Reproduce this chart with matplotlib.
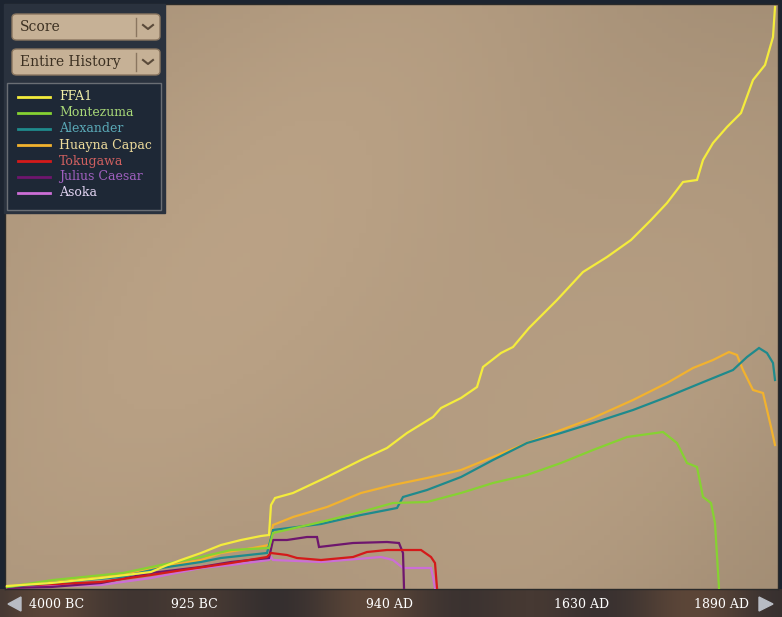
import numpy as np
import matplotlib.pyplot as plt
from matplotlib.patches import FancyBboxPatch, Rectangle, Polygon

# ============================
# Datos (turno, puntuación)
# ============================
ffa1_t = [0, 22, 47, 72, 79, 87, 97, 107, 117, 127, 131, 132, 134, 143, 160, 177, 190, 200,
          213, 217, 227, 235, 238, 247, 253, 261, 275, 288, 300, 312, 322, 330, 338, 345,
          348, 353, 360, 367, 373, 379, 383, 384]
ffa1_s = [4, 10, 20, 32, 44, 56, 70, 86, 96, 104, 106, 166, 180, 190, 222, 256, 280, 310,
          342, 360, 380, 402, 442, 470, 482, 520, 576, 632, 662, 696, 736, 770, 812, 816,
          856, 890, 922, 950, 1016, 1046, 1102, 1162]

monte_t = [0, 23, 58, 77, 97, 112, 131, 133, 157, 177, 193, 210, 227, 243, 260, 277, 293,
           310, 328, 335, 340, 345, 348, 352, 354, 356]
monte_s = [2, 16, 30, 46, 62, 76, 80, 110, 132, 152, 170, 172, 190, 210, 226, 250, 276,
           302, 312, 290, 250, 242, 182, 170, 130, 0]

alex_t = [0, 27, 57, 77, 97, 107, 130, 133, 157, 177, 195, 198, 210, 227, 243, 260, 277,
          293, 313, 330, 347, 363, 370, 376, 380, 383, 384]
alex_s = [2, 12, 22, 40, 52, 60, 70, 116, 128, 146, 160, 182, 196, 222, 256, 290, 310,
          330, 356, 382, 410, 436, 462, 480, 470, 450, 416]

huayna_t = [0, 27, 57, 77, 97, 107, 123, 131, 133, 143, 160, 177, 193, 210, 227, 243, 260,
            277, 293, 313, 330, 343, 353, 361, 365, 368, 373, 378, 382, 384]
huayna_s = [2, 16, 28, 42, 56, 70, 80, 86, 126, 142, 162, 190, 206, 220, 236, 262, 290,
            316, 340, 376, 410, 440, 456, 472, 466, 436, 396, 390, 322, 286]

toku_t = [0, 13, 47, 72, 88, 112, 130, 132, 140, 145, 157, 173, 180, 190, 207, 212, 214, 215]
toku_s = [2, 6, 12, 26, 36, 50, 62, 70, 66, 60, 56, 62, 72, 76, 76, 62, 50, 0]

julius_t = [0, 22, 47, 72, 97, 112, 131, 133, 140, 150, 155, 156, 173, 190, 196, 198, 198.5]
julius_s = [0, 2, 10, 30, 42, 52, 60, 96, 96, 102, 102, 82, 90, 92, 90, 70, 0]

asoka_t = [1, 47, 72, 97, 112, 131, 132, 133, 157, 187, 193, 198, 212, 213, 214]
asoka_s = [2, 6, 20, 40, 46, 56, 62, 56, 52, 62, 56, 40, 40, 22, 0]

nombres = ["FFA1", "Montezuma", "Alexander", "Huayna Capac", "Tokugawa", "Julius Caesar", "Asoka"]
series = [(ffa1_t, ffa1_s), (monte_t, monte_s), (alex_t, alex_s), (huayna_t, huayna_s),
          (toku_t, toku_s), (julius_t, julius_s), (asoka_t, asoka_s)]
colores_linea = ["#f4ec3c", "#86d232", "#1f8a8c", "#f2b22e", "#d41a1a", "#6e166e", "#cc6ed6"]
colores_texto = ["#f2f0a8", "#a8d878", "#5aaab8", "#eedc9c", "#d06060", "#a060c0", "#e2d4f2"]

etiquetas_x = ["4000 BC", "925 BC", "940 AD", "1630 AD", "1890 AD"]
pos_etiquetas_px = [57, 194, 389, 582, 721]

W, H = 782, 617


def fx(x):
    return x / W


def fy(y):
    return 1 - y / H


# ============================
# Figura y fondo
# ============================
fig = plt.figure(figsize=(W / 100, H / 100), dpi=100)
fig.patch.set_facecolor("#1c2430")

# barra inferior (oscura, con tonos marrones)
bar = fig.add_axes([0, 0, 1, fy(589)])
u = np.linspace(0, 1, 300)
tono = 0.5 + 0.5 * np.sin(u * 23) * np.cos(u * 7)
base_bar = np.array([48, 44, 46]) / 255
marron = np.array([92, 70, 56]) / 255
img_bar = base_bar[None, :] * (1 - tono[:, None]) + marron[None, :] * tono[:, None]
bar.imshow(img_bar[None, :, :], aspect="auto", extent=[0, 1, 0, 1])
bar.set_xlim(0, 1)
bar.set_ylim(0, 1)
bar.axis("off")

# ============================
# Gráfico
# ============================
ax = fig.add_axes([fx(5), fy(589), fx(778) - fx(5), fy(4) - fy(589)])
yy, xx = np.mgrid[0:1:120j, 0:1:120j]
brillo = 1 - 0.16 * ((xx - 0.4) ** 2 + (yy - 0.5) ** 2) - 0.015 * np.sin(xx * 9 + yy * 5)
perg = np.array([184, 160, 132]) / 255
img = np.clip(perg[None, None, :] * brillo[:, :, None], 0, 1)
ax.imshow(img, extent=[-1, 385.5, -2, 1168], aspect="auto", zorder=0)

for i in range(len(series) - 1, -1, -1):
    t, s = series[i]
    ax.plot(t, s, color=colores_linea[i], lw=1.6, zorder=2 + (len(series) - i),
            solid_joinstyle="miter")

ax.set_xlim(-1, 385.5)
ax.set_ylim(-2, 1168)
ax.set_xticks([])
ax.set_yticks([])
for sp in ax.spines.values():
    sp.set_color("#2a2a2a")
    sp.set_linewidth(1.0)

# etiquetas del eje
for txt, xp in zip(etiquetas_x, pos_etiquetas_px):
    fig.text(fx(xp), fy(604), txt, color="white", fontsize=9, family="DejaVu Serif",
             ha="center", va="center")

# flechas
fig.patches.append(Polygon([(fx(8), fy(604)), (fx(21), fy(597)), (fx(21), fy(611))],
                           closed=True, transform=fig.transFigure, color="#b8bcc4"))
fig.patches.append(Polygon([(fx(773), fy(604)), (fx(759), fy(597)), (fx(759), fy(611))],
                           closed=True, transform=fig.transFigure, color="#b8bcc4"))

# ============================
# Panel superior izquierdo
# ============================
fig.patches.append(Rectangle((fx(4), fy(213)), fx(165) - fx(4), fy(4) - fy(213),
                             transform=fig.transFigure, color="#2a323e", zorder=5))

for y0, txt in [(14, "Score"), (49, "Entire History")]:
    caja = FancyBboxPatch((fx(12), fy(y0 + 26)), fx(160) - fx(12), fy(y0) - fy(y0 + 26),
                          boxstyle="round,pad=0,rounding_size=0.006",
                          transform=fig.transFigure, facecolor="#c6b196",
                          edgecolor="#8a7660", lw=1, zorder=6)
    fig.patches.append(caja)
    fig.lines.append(plt.Line2D([fx(136), fx(136)], [fy(y0 + 4), fy(y0 + 22)],
                                transform=fig.transFigure, color="#8a7660", lw=1, zorder=7))
    fig.lines.append(plt.Line2D([fx(143), fx(148), fx(153)], [fy(y0 + 11), fy(y0 + 15), fy(y0 + 11)],
                                transform=fig.transFigure, color="#5a4a3a", lw=1.5, zorder=7))
    fig.text(fx(20), fy(y0 + 13), txt, color="#3c3022", fontsize=10, family="DejaVu Serif",
             ha="left", va="center", zorder=8)

fig.patches.append(Rectangle((fx(7), fy(210)), fx(161) - fx(7), fy(83) - fy(210),
                             transform=fig.transFigure, facecolor="#1e2836",
                             edgecolor="#6a6e74", lw=1, zorder=6))

for i, nom in enumerate(nombres):
    yl = 97 + 16 * i
    fig.lines.append(plt.Line2D([fx(18), fx(50)], [fy(yl), fy(yl)], transform=fig.transFigure,
                                color=colores_linea[i], lw=2, zorder=7))
    fig.text(fx(59), fy(yl), nom, color=colores_texto[i], fontsize=9, family="DejaVu Serif",
             ha="left", va="center", zorder=8)

plt.savefig("out.png", dpi=100, facecolor=fig.get_facecolor())
